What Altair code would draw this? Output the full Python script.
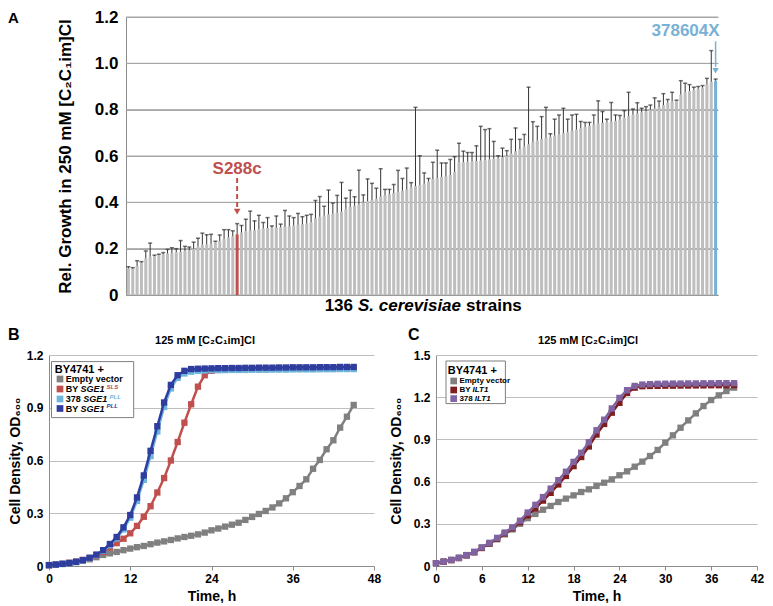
import altair as alt
import pandas as pd

FONT = "Liberation Sans"
AX = "#8C8C8C"
GRID_A = "#A6A6A6"
GRID_BC = "#BFBFBF"

# ---------------- Panel A data ----------------
growth = [
    0.115, 0.113, 0.125, 0.140, 0.158, 0.165, 0.168, 0.172, 0.176, 0.179,
    0.180, 0.185, 0.187, 0.190, 0.193, 0.200, 0.210, 0.217, 0.218, 0.220,
    0.228, 0.232, 0.242, 0.249, 0.253, 0.262, 0.270, 0.275, 0.277, 0.280,
    0.284, 0.287, 0.289, 0.289, 0.290, 0.292, 0.294, 0.297, 0.300, 0.303,
    0.306, 0.308, 0.314, 0.330, 0.338, 0.342, 0.348, 0.350, 0.355, 0.360,
    0.370, 0.380, 0.385, 0.390, 0.400, 0.405, 0.410, 0.415, 0.425, 0.430,
    0.435, 0.440, 0.445, 0.450, 0.455, 0.465, 0.470, 0.475, 0.480, 0.490,
    0.500, 0.505, 0.510, 0.513, 0.518, 0.530, 0.572, 0.573, 0.575, 0.576,
    0.578, 0.580, 0.582, 0.585, 0.588, 0.590, 0.595, 0.600, 0.610, 0.620,
    0.630, 0.640, 0.650, 0.660, 0.667, 0.673, 0.678, 0.683, 0.688, 0.693,
    0.698, 0.703, 0.708, 0.714, 0.720, 0.725, 0.730, 0.735, 0.740, 0.743,
    0.745, 0.748, 0.752, 0.757, 0.765, 0.772, 0.778, 0.783, 0.788, 0.792,
    0.800, 0.805, 0.810, 0.820, 0.830, 0.835, 0.838, 0.865, 0.875, 0.880,
    0.885, 0.890, 0.895, 0.910, 0.920, 0.925,
]
err_top = [
    0.122, 0.118, 0.148, 0.144, 0.190, 0.224, 0.172, 0.176, 0.183, 0.197,
    0.204, 0.200, 0.235, 0.210, 0.207, 0.228, 0.245, 0.267, 0.260, 0.262,
    0.232, 0.259, 0.282, 0.282, 0.277, 0.308, 0.300, 0.327, 0.362, 0.320,
    0.344, 0.313, 0.334, 0.298, 0.341, 0.306, 0.365, 0.341, 0.334, 0.352,
    0.338, 0.344, 0.348, 0.408, 0.425, 0.383, 0.453, 0.397, 0.430, 0.486,
    0.418, 0.452, 0.424, 0.539, 0.432, 0.501, 0.482, 0.461, 0.545, 0.456,
    0.456, 0.477, 0.538, 0.503, 0.548, 0.485, 0.810, 0.601, 0.527, 0.503,
    0.573, 0.625, 0.570, 0.570, 0.585, 0.597, 0.655, 0.621, 0.615, 0.615,
    0.644, 0.728, 0.714, 0.718, 0.663, 0.601, 0.634, 0.623, 0.672, 0.721,
    0.672, 0.693, 0.897, 0.748, 0.728, 0.770, 0.810, 0.696, 0.759, 0.777,
    0.806, 0.759, 0.777, 0.780, 0.749, 0.745, 0.745, 0.777, 0.838, 0.792,
    0.759, 0.831, 0.777, 0.775, 0.796, 0.875, 0.803, 0.830, 0.806, 0.813,
    0.820, 0.851, 0.837, 0.869, 0.844, 0.875, 0.841, 0.925, 0.914, 0.908,
    0.897, 0.900, 0.904, 0.935, 1.055, 0.932,
]
S288C_IDX = 25
X378_IDX = 135
a_ticks = [0, 0.2, 0.4, 0.6, 0.8, 1.0, 1.2]

# ---------------- Panel B data ----------------
hours_b = list(range(46))
b_empty = [0.005, 0.008, 0.012, 0.017, 0.022, 0.030, 0.038, 0.050, 0.063, 0.072,
           0.080, 0.090, 0.099, 0.107, 0.114, 0.124, 0.133, 0.140, 0.148, 0.157,
           0.165, 0.172, 0.180, 0.190, 0.203, 0.213, 0.224, 0.235, 0.246, 0.262,
           0.279, 0.296, 0.313, 0.333, 0.356, 0.385, 0.420, 0.455, 0.493, 0.553,
           0.603, 0.664, 0.715, 0.787, 0.849, 0.916]
b_by_sls = [0.005, 0.008, 0.012, 0.018, 0.025, 0.035, 0.045, 0.060, 0.080, 0.105,
            0.130, 0.155, 0.186, 0.228, 0.280, 0.340, 0.418, 0.500, 0.600, 0.705,
            0.815, 0.920, 1.020, 1.085, 1.110, 1.115, 1.117, 1.118, 1.119, 1.119,
            1.120, 1.120, 1.120, 1.121, 1.121, 1.121, 1.122, 1.122, 1.122, 1.123,
            1.123, 1.123, 1.124, 1.124, 1.124, 1.125]
b_378_pll = [0.005, 0.008, 0.012, 0.017, 0.023, 0.032, 0.045, 0.062, 0.086, 0.118,
             0.157, 0.208, 0.275, 0.370, 0.490, 0.625, 0.765, 0.905, 1.010, 1.070,
             1.095, 1.105, 1.110, 1.112, 1.113, 1.114, 1.114, 1.115, 1.115, 1.115,
             1.116, 1.116, 1.116, 1.117, 1.117, 1.117, 1.118, 1.118, 1.118, 1.118,
             1.119, 1.119, 1.119, 1.120, 1.120, 1.120]
b_by_pll = [0.005, 0.008, 0.012, 0.017, 0.024, 0.033, 0.047, 0.065, 0.090, 0.125,
            0.165, 0.220, 0.290, 0.390, 0.515, 0.655, 0.795, 0.930, 1.030, 1.085,
            1.110, 1.120, 1.122, 1.123, 1.124, 1.125, 1.125, 1.126, 1.126, 1.127,
            1.127, 1.128, 1.128, 1.128, 1.129, 1.129, 1.130, 1.130, 1.130, 1.130,
            1.131, 1.131, 1.131, 1.132, 1.132, 1.132]
b_series = ["Empty vector", "BY SGE1 SLS", "378 SGE1 PLL", "BY SGE1 PLL"]
b_colors = ["#808080", "#C0504D", "#6CB6DD", "#2E3D9E"]

# ---------------- Panel C data ----------------
hours_c = list(range(40))
c_empty = [0.020, 0.031, 0.043, 0.059, 0.078, 0.100, 0.130, 0.159, 0.190, 0.225,
           0.260, 0.300, 0.340, 0.370, 0.400, 0.427, 0.455, 0.479, 0.502, 0.526,
           0.545, 0.569, 0.592, 0.616, 0.645, 0.673, 0.706, 0.742, 0.782, 0.825,
           0.877, 0.929, 0.983, 1.035, 1.085, 1.137, 1.180, 1.213, 1.244, 1.268]
c_by_ilt1 = [0.020, 0.030, 0.042, 0.056, 0.075, 0.097, 0.128, 0.160, 0.195, 0.232,
             0.268, 0.312, 0.360, 0.410, 0.465, 0.520, 0.580, 0.640, 0.710, 0.775,
             0.850, 0.935, 1.010, 1.090, 1.160, 1.230, 1.268, 1.278, 1.280, 1.281,
             1.282, 1.282, 1.283, 1.283, 1.284, 1.284, 1.285, 1.285, 1.285, 1.286]
c_378_ilt1 = [0.020, 0.031, 0.043, 0.058, 0.077, 0.100, 0.132, 0.165, 0.200, 0.238,
              0.275, 0.322, 0.380, 0.435, 0.490, 0.550, 0.610, 0.670, 0.740, 0.805,
              0.880, 0.965, 1.040, 1.120, 1.195, 1.250, 1.280, 1.290, 1.293, 1.295,
              1.296, 1.297, 1.297, 1.298, 1.298, 1.299, 1.299, 1.300, 1.300, 1.300]
c_series = ["Empty vector", "BY ILT1", "378 ILT1"]
c_colors = ["#808080", "#7E1E1E", "#8064A2"]

# ---------------- build tables ----------------
kind = ["other"] * len(growth)
kind[S288C_IDX] = "S288c"
kind[X378_IDX] = "378604X"
dfA = pd.DataFrame({"idx": list(range(len(growth))), "growth": growth,
                    "err": err_top, "kind": kind})
dfGrid = pd.DataFrame({"tick": a_ticks})

dfB = pd.concat([pd.DataFrame({"hour": hours_b, "od": v, "series": s})
                 for s, v in zip(b_series, [b_empty, b_by_sls, b_378_pll, b_by_pll])])
dfC = pd.concat([pd.DataFrame({"hour": hours_c, "od": v, "series": s})
                 for s, v in zip(c_series, [c_empty, c_by_ilt1, c_378_ilt1])])
one = pd.DataFrame({"k": [0]})

# Panel A shares its left origin with panel B; its y-axis sits AX0 px inside.
W_A, H_A, AX0 = 669, 278, 77
W_B, W_C, H_B = 325, 321, 211
RED = "#C0504D"
BLUE = "#78B1D6"


def txt(text, x, y, size, color="black", italic=False, align="left", weight="bold"):
    return alt.Chart(one).mark_text(
        text=text, align=align, baseline="middle", fontSize=size,
        fontWeight=weight, fontStyle="italic" if italic else "normal",
        color=color, font=FONT,
    ).encode(x=alt.value(x), y=alt.value(y))


# ---------------- Panel A ----------------
xA = alt.X("idx:O", title=None,
           scale=alt.Scale(paddingInner=0.3, paddingOuter=0.2, range=[AX0, W_A]),
           axis=alt.Axis(labels=False, ticks=False, domainColor=AX, grid=False))
axisA = alt.Axis(values=a_ticks, offset=-AX0, grid=True, gridColor=GRID_A,
                 gridWidth=1, gridOpacity=1,
                 labelExpr="datum.value == 0 ? '0' : format(datum.value, '.1f')",
                 labelFontSize=17, labelFontWeight="bold", labelColor="black",
                 labelPadding=8, ticks=False, domainColor=AX,
                 title="Rel. Growth in 250 mM [C₂C₁im]Cl",
                 titleFontSize=17, titleFontWeight="bold", titleColor="black",
                 titleX=-52, titleY=H_A / 2)


def yA(field):
    return alt.Y(field, scale=alt.Scale(domain=[0, 1.2], nice=False), axis=axisA)


baseA = alt.Chart(dfA)
# horizontal gridlines drawn as explicit segments from the y-axis to the right edge
gridA = alt.Chart(dfGrid).mark_rule(color=GRID_A, strokeWidth=1).encode(
    x=alt.value(AX0), x2=alt.value(W_A), y=yA("tick:Q"), y2="tick:Q")
barsA = baseA.mark_bar().encode(
    x=xA, y=yA("growth:Q"),
    color=alt.Color("kind:N", legend=None,
                    scale=alt.Scale(domain=["other", "S288c", "378604X"],
                                    range=["#BEBEBE", RED, BLUE])))
errA = baseA.mark_rule(color="#333333", strokeWidth=1).encode(
    x=xA, y=yA("growth:Q"), y2="err:Q")
capA = baseA.mark_tick(color="#333333", thickness=1.5, size=4).encode(
    x=xA, y=yA("err:Q"))

annA = pd.DataFrame({"idx": [S288C_IDX, X378_IDX], "lab": ["S288c", "378604X"],
                     "ty": [0.545, 1.14], "y1": [0.505, 1.095], "y2": [0.375, 0.985],
                     "yh": [0.36, 0.968]})
s288 = annA.iloc[[0]]
x378 = annA.iloc[[1]]
lab1 = alt.Chart(s288).mark_text(fontSize=17, fontWeight="bold", color=RED, font=FONT).encode(
    x=xA, y=yA("ty:Q"), text="lab:N")
arr1 = alt.Chart(s288).mark_rule(color=RED, strokeWidth=2, strokeDash=[5, 3]).encode(
    x=xA, y=yA("y1:Q"), y2="y2:Q")
head1 = alt.Chart(s288).mark_point(shape="triangle-down", filled=True, size=45,
                                   color=RED, opacity=1).encode(
    x=xA, y=yA("yh:Q"))
lab2 = alt.Chart(x378).mark_text(fontSize=17, fontWeight="bold", color=BLUE, font=FONT,
                                 align="right", dx=4).encode(
    x=xA, y=yA("ty:Q"), text="lab:N")
arr2 = alt.Chart(x378).mark_rule(color=BLUE, strokeWidth=1.5).encode(
    x=xA, y=yA("y1:Q"), y2="y2:Q")
head2 = alt.Chart(x378).mark_point(shape="triangle-down", filled=True, size=40,
                                   color=BLUE, opacity=1).encode(
    x=xA, y=yA("yh:Q"))

panelA = alt.layer(
    gridA, barsA, errA, capA, lab1, arr1, head1, lab2, arr2, head2,
    txt("A", -41, 1, 15),
    txt("136", AX0 + 227, H_A + 11, 17, align="right"),
    txt("S. cerevisiae", AX0 + 232, H_A + 11, 17, italic=True),
    txt("strains", AX0 + 340, H_A + 11, 17),
).properties(width=W_A, height=H_A)


# ---------------- Panels B and C ----------------
def xy(w, domx, xvals, domy, yvals, ytitle_x):
    xe = alt.X("hour:Q", scale=alt.Scale(domain=domx, nice=False),
               axis=alt.Axis(values=xvals, labelFontSize=12, labelFontWeight="bold",
                             labelColor="black", labelPadding=3, tickSize=4,
                             tickColor=AX, domainColor=AX, grid=False, labelFlush=False,
                             title="Time, h", titleFontSize=14, titleFontWeight="bold",
                             titleColor="black", titleX=w / 2, titleY=30,
                             titleBaseline="middle"))
    ye = alt.Y("od:Q", scale=alt.Scale(domain=domy, nice=False),
               axis=alt.Axis(values=yvals,
                             labelExpr="datum.value == 0 ? '0' : format(datum.value, '.1f')",
                             labelFontSize=12, labelFontWeight="bold", labelColor="black",
                             labelPadding=6, ticks=False, domainColor=AX,
                             gridColor=GRID_BC, title="Cell Density, OD₆₀₀",
                             titleFontSize=14, titleFontWeight="bold", titleColor="black",
                             titleX=ytitle_x, titleY=H_B / 2))
    return xe, ye


def series_layers(df, names, colors, xe, ye):
    out = []
    for s, c in zip(names, colors):
        out.append(alt.Chart(df).transform_filter(alt.datum.series == s).mark_line(
            color=c, strokeWidth=2.5,
            point=alt.OverlayMarkDef(shape="square", size=40, filled=True,
                                     color=c, opacity=1)).encode(x=xe, y=ye))
    return out


def swatch(x, y, c):
    return alt.Chart(one).mark_square(size=45, color=c, opacity=1).encode(
        x=alt.value(x), y=alt.value(y))


def box(x1, x2, y1, y2):
    return alt.Chart(one).mark_rect(fill="white", stroke="#7F7F7F", strokeWidth=1).encode(
        x=alt.value(x1), x2=alt.value(x2), y=alt.value(y1), y2=alt.value(y2))


xB, yB = xy(W_B, [0, 48], [0, 12, 24, 36, 48], [0, 1.2], [0, 0.3, 0.6, 0.9, 1.2], -27)
TITLE_BC = "125 mM [C₂C₁im]Cl"
rowsB = [24, 34, 44, 53.5]
legendB = [
    box(2.5, 84.7, 6.6, 62.6),
    txt("BY4741 +", 5.7, 14.5, 11),
    swatch(11, rowsB[0], b_colors[0]), txt("Empty vector", 16.7, rowsB[0], 9),
    swatch(11, rowsB[1], b_colors[1]), txt("BY", 16.7, rowsB[1], 9),
    txt("SGE1", 31.5, rowsB[1], 9, italic=True),
    txt("SLS", 57.5, rowsB[1] - 2.5, 6, color=b_colors[1], italic=True),
    swatch(11, rowsB[2], b_colors[2]), txt("378", 16.7, rowsB[2], 9),
    txt("SGE1", 34.3, rowsB[2], 9, italic=True),
    txt("PLL", 60.5, rowsB[2] - 2.5, 6, color=b_colors[2], italic=True),
    swatch(11, rowsB[3], b_colors[3]), txt("BY", 16.7, rowsB[3], 9),
    txt("SGE1", 31.5, rowsB[3], 9, italic=True),
    txt("PLL", 57.5, rowsB[3] - 2.5, 6, color=b_colors[3], italic=True),
]
panelB = alt.layer(
    *series_layers(dfB, b_series, b_colors, xB, yB),
    *legendB,
    txt("B", -41, -20, 16),
    txt(TITLE_BC, 156, -14, 11, align="center"),
).properties(width=W_B, height=H_B)

xC, yC = xy(W_C, [0, 42], [0, 6, 12, 18, 24, 30, 36, 42], [0, 1.5],
            [0, 0.3, 0.6, 0.9, 1.2, 1.5], -33)
rowsC = [26, 35, 43.6]
legendC = [
    box(10, 69.4, 6, 48.6),
    txt("BY4741 +", 11.7, 16, 11),
    swatch(17.7, rowsC[0], c_colors[0]), txt("Empty vector", 23.4, rowsC[0], 8),
    swatch(17.7, rowsC[1], c_colors[1]), txt("BY", 23.4, rowsC[1], 8),
    txt("ILT1", 36.5, rowsC[1], 8, italic=True),
    swatch(17.7, rowsC[2], c_colors[2]), txt("378", 23.4, rowsC[2], 8),
    txt("ILT1", 38.8, rowsC[2], 8, italic=True),
]
panelC = alt.layer(
    *series_layers(dfC, c_series, c_colors, xC, yC),
    *legendC,
    txt("C", -28, -20, 16),
    txt(TITLE_BC, 152, -14, 11, align="center"),
).properties(width=W_C, height=H_B)

chart = alt.vconcat(
    panelA,
    alt.hconcat(panelB, panelC, spacing=8),
    spacing=13,
).properties(padding=0).configure_view(stroke=None).configure_axis(
    labelFont=FONT, titleFont=FONT).configure_text(font=FONT)

chart.save("out.html", embed_options={"renderer": "svg", "actions": False})
